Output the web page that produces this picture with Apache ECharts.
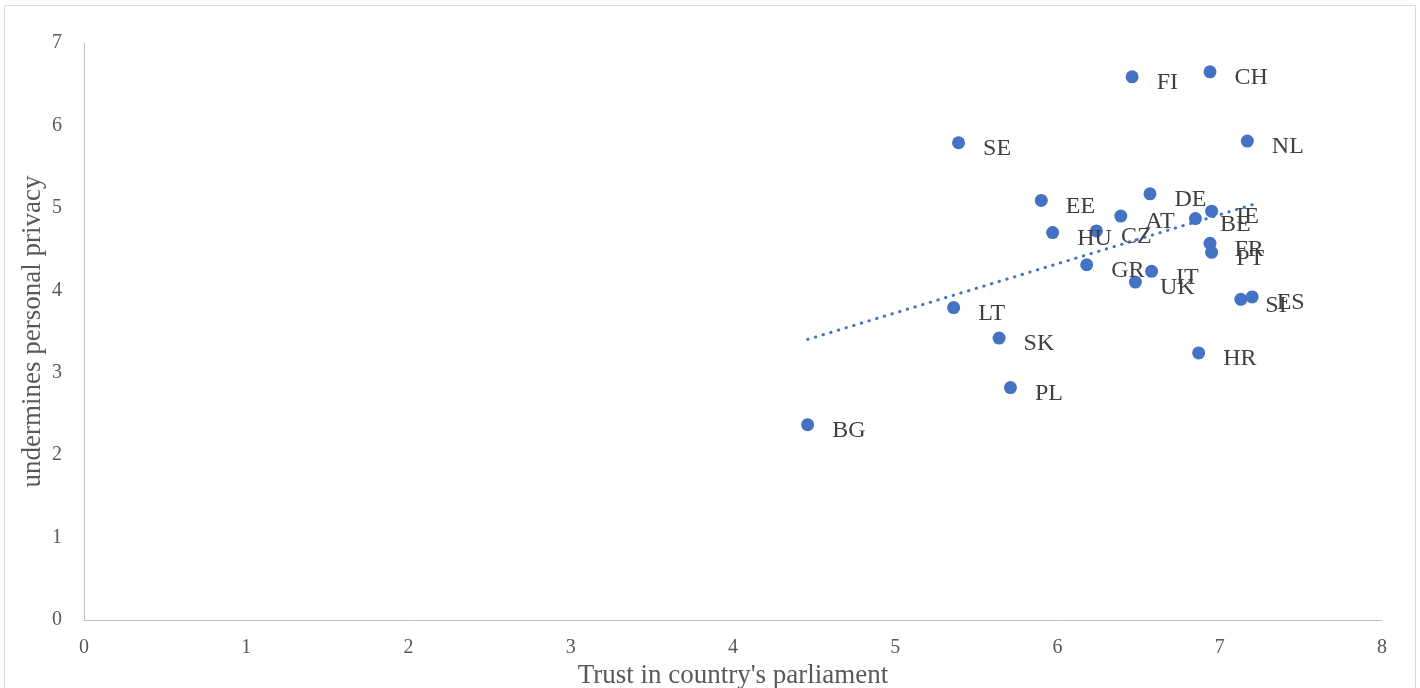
<!DOCTYPE html>
<html><head><meta charset="utf-8">
<script src="https://cdn.jsdelivr.net/npm/echarts@6/dist/echarts.min.js"></script>
<style>html,body{margin:0;padding:0;background:#fff}#c{width:1420px;height:688px}</style>
</head><body><div id="c"></div>
<script>
const countries = ['FI','CH','NL','SE','EE','DE','AT','BE','IE','HU','CZ','FR','PT','GR','IT','UK','SI','ES','LT','SK','HR','PL','BG'];
const trustParliament = [6.46,6.94,7.17,5.39,5.90,6.57,6.39,6.85,6.95,5.97,6.24,6.94,6.95,6.18,6.58,6.48,7.13,7.20,5.36,5.64,6.87,5.71,4.46];
const undermPrivacy = [6.59,6.65,5.81,5.79,5.09,5.17,4.90,4.87,4.96,4.70,4.72,4.57,4.46,4.31,4.23,4.10,3.89,3.92,3.79,3.42,3.24,2.82,2.37];
const xTicks = [0,1,2,3,4,5,6,7,8];
const yTicks = [0,1,2,3,4,5,6,7];

// linear trend (least squares) of the data
const n = trustParliament.length;
const mx = trustParliament.reduce((a,b)=>a+b,0)/n;
const my = undermPrivacy.reduce((a,b)=>a+b,0)/n;
let sxy=0, sxx=0;
for(let i=0;i<n;i++){sxy+=(trustParliament[i]-mx)*(undermPrivacy[i]-my);sxx+=(trustParliament[i]-mx)**2;}
const slope = sxy/sxx, icpt = my - slope*mx;
const xmin = Math.min(...trustParliament), xmax = Math.max(...trustParliament);
const trend = [[xmin, icpt+slope*xmin],[xmax, icpt+slope*xmax]];

const font = "'Liberation Serif', 'Times New Roman', serif";
const chart = echarts.init(document.getElementById('c'));
chart.setOption({
  animation:false,
  backgroundColor:'#fff',
  graphic:[{type:'rect',shape:{x:4.5,y:5.5,width:1411,height:700},style:{fill:'none',stroke:'#d9d9d9',lineWidth:1},silent:true,z:-1}],
  grid:{left:84,top:43,right:38,bottom:68,containLabel:false,outerBoundsMode:'none'},
  xAxis:{type:'value',min:0,max:8,interval:1,
    name:"Trust in country's parliament",nameLocation:'middle',nameGap:42,
    nameTextStyle:{fontFamily:font,fontSize:27,color:'#595959'},
    axisLine:{show:true,lineStyle:{color:'#bfbfbf',width:1}},axisTick:{show:false},splitLine:{show:false},
    axisLabel:{fontFamily:font,fontSize:20,color:'#595959',margin:18,formatter:v=>xTicks.includes(v)?String(v):''}},
  yAxis:{type:'value',min:0,max:7,interval:1,
    name:'undermines personal privacy',nameLocation:'middle',nameGap:38,nameRotate:90,nameMoveOverlap:false,
    nameTextStyle:{fontFamily:font,fontSize:27,color:'#595959'},
    axisLine:{show:true,lineStyle:{color:'#bfbfbf',width:1}},axisTick:{show:false},splitLine:{show:false},
    axisLabel:{fontFamily:font,fontSize:20,color:'#595959',margin:22,formatter:v=>yTicks.includes(v)?String(v):''}},
  series:[
    {type:'line',data:trend,symbol:'none',silent:true,z:1,
     lineStyle:{color:'#4472C4',width:3,type:[0.5,7.5],cap:'round'}},
    {type:'scatter',symbolSize:13,z:2,
     itemStyle:{color:'#4472C4',opacity:1},
     data:countries.map((c,i)=>({value:[trustParliament[i],undermPrivacy[i]],name:c})),
     label:{show:true,position:'right',distance:18,offset:[0,6],formatter:p=>p.name,
       fontFamily:font,fontSize:24,color:'#404040'}}
  ]
});
</script></body></html>
